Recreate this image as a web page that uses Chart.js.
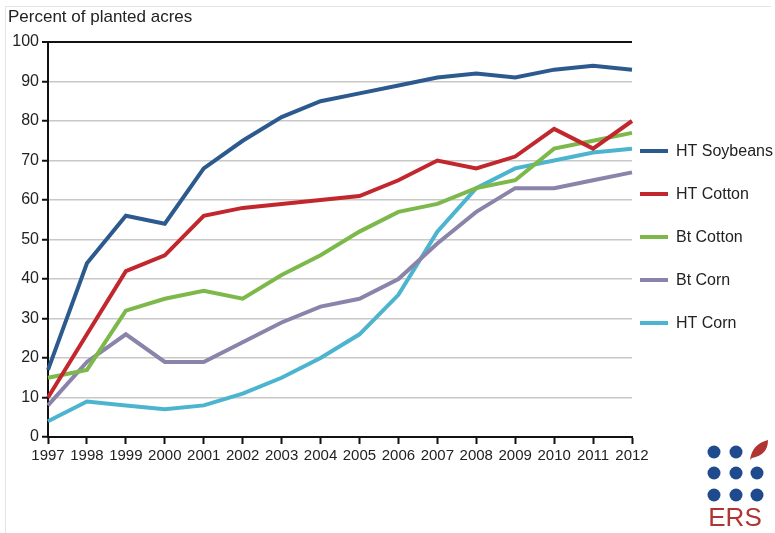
<!DOCTYPE html>
<html>
<head>
<meta charset="utf-8">
<script src="https://cdn.jsdelivr.net/npm/chart.js@4/dist/chart.umd.min.js"></script>
<style>
  body { margin: 0; background: #fff; }
  #wrap { position: relative; width: 775px; height: 533px; }
  #frame { position: absolute; left: 5px; top: 6px; right: 4px; bottom: -2px; border: 1px solid #e4e4e4; border-bottom: none; border-right: none; }
</style>
</head>
<body>
<div id="wrap">
  <div id="frame"></div>
  <canvas id="chart"></canvas>
</div>
<script>
// values
const years = ['1997','1998','1999','2000','2001','2002','2003','2004','2005','2006','2007','2008','2009','2010','2011','2012'];
const htSoybeans = [17, 44, 56, 54, 68, 75, 81, 85, 87, 89, 91, 92, 91, 93, 94, 93];
const htCotton   = [10, 26, 42, 46, 56, 58, 59, 60, 61, 65, 70, 68, 71, 78, 73, 80];
const btCotton   = [15, 17, 32, 35, 37, 35, 41, 46, 52, 57, 59, 63, 65, 73, 75, 77];
const btCorn     = [8, 19, 26, 19, 19, 24, 29, 33, 35, 40, 49, 57, 63, 63, 65, 67];
const htCorn     = [4, 9, 8, 7, 8, 11, 15, 20, 26, 36, 52, 63, 68, 70, 72, 73];

const seriesNames  = ['HT Soybeans', 'HT Cotton', 'Bt Cotton', 'Bt Corn', 'HT Corn'];
const seriesData   = [htSoybeans, htCotton, btCotton, btCorn, htCorn];
const seriesColors = ['#2c5a8e', '#c1272d', '#7cb84a', '#8a84aa', '#4db4cf'];
const yTicks = [0, 10, 20, 30, 40, 50, 60, 70, 80, 90, 100];

const FONT = '"Liberation Sans", Arial, sans-serif';

// title, legend on the right and the ERS mark
const extras = {
  id: 'extras',
  afterDraw(chart) {
    const ctx = chart.ctx;
    ctx.save();
    ctx.fillStyle = '#222';
    ctx.font = '17px ' + FONT;
    ctx.textAlign = 'left';
    ctx.textBaseline = 'middle';
    ctx.fillText('Percent of planted acres', 8, 17);

    ctx.font = '16px ' + FONT;
    chart.data.datasets.forEach((ds, i) => {
      const y = 151 + i * 43;
      ctx.strokeStyle = ds.borderColor;
      ctx.lineWidth = 4;
      ctx.beginPath();
      ctx.moveTo(640, y);
      ctx.lineTo(668, y);
      ctx.stroke();
      ctx.fillStyle = '#222';
      ctx.fillText(ds.label, 676, y + 1);
    });

    // ERS logo
    ctx.fillStyle = '#1f4b8e';
    const xs = [714, 736, 757], ys = [452, 473, 495];
    ys.forEach((yy, r) => xs.forEach((xx, c) => {
      if (r === 0 && c === 2) return;
      ctx.beginPath();
      ctx.arc(xx, yy, 6.5, 0, Math.PI * 2);
      ctx.fill();
    }));
    ctx.fillStyle = '#b03434';
    ctx.beginPath();
    ctx.moveTo(750, 460);
    ctx.quadraticCurveTo(752, 444, 768, 440);
    ctx.quadraticCurveTo(768, 455, 752, 458);
    ctx.closePath();
    ctx.fill();
    ctx.font = '26px ' + FONT;
    ctx.textAlign = 'center';
    ctx.fillText('ERS', 735, 519);
    ctx.restore();
  }
};

new Chart(document.getElementById('chart'), {
  type: 'line',
  data: {
    labels: years,
    datasets: seriesNames.map((name, i) => ({
      label: name,
      data: seriesData[i],
      borderColor: seriesColors[i],
      backgroundColor: seriesColors[i],
      borderWidth: 4,
      pointRadius: 0,
      tension: 0,
      fill: false
    }))
  },
  options: {
    responsive: true,
    maintainAspectRatio: false,
    animation: false,
    layout: { padding: { left: 0, top: 42, right: 143, bottom: 0 } },
    plugins: { legend: { display: false }, tooltip: { enabled: false } },
    scales: {
      x: {
        offset: false,
        afterFit(scale) { scale.height = 96; },
        grid: { drawOnChartArea: false, drawTicks: true, tickLength: 7, tickColor: '#111', tickWidth: 2 },
        border: { display: true, color: '#111', width: 2 },
        ticks: { color: '#222', font: { family: FONT, size: 15 }, padding: 3, maxRotation: 0, autoSkip: false }
      },
      y: {
        min: 0, max: 100,
        afterFit(scale) { scale.width = 48; },
        afterBuildTicks(scale) { scale.ticks = yTicks.map(v => ({ value: v })); },
        grid: {
          color: ctx => (ctx.tick && ctx.tick.value === 100) ? '#111' : '#c8c8c8',
          lineWidth: ctx => (ctx.tick && ctx.tick.value === 100) ? 2 : 1.5,
          tickColor: '#111', tickLength: 6, tickWidth: 2
        },
        border: { display: true, color: '#111', width: 2 },
        ticks: { color: '#222', font: { family: FONT, size: 16 }, padding: 3 }
      }
    }
  },
  plugins: [extras]
});
</script>
</body>
</html>
